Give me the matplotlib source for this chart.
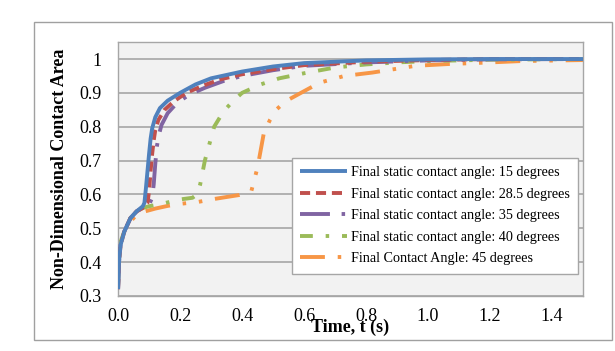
import matplotlib
matplotlib.use("Agg")
import matplotlib.pyplot as plt
from matplotlib.patches import Rectangle

plt.rcParams['font.family'] = ['Liberation Serif', 'DejaVu Serif']

# Data
t15 = [0.0, 0.003, 0.008, 0.02, 0.04, 0.06, 0.08, 0.085, 0.09, 0.095, 0.1, 0.105, 0.11, 0.12, 0.135, 0.16, 0.2, 0.25, 0.3, 0.4, 0.5, 0.6, 0.8, 1.0, 1.2, 1.5]
a15 = [0.32, 0.40, 0.45, 0.49, 0.53, 0.55, 0.565, 0.575, 0.62, 0.67, 0.72, 0.765, 0.795, 0.828, 0.855, 0.877, 0.90, 0.925, 0.943, 0.963, 0.978, 0.988, 0.996, 0.999, 1.0, 1.0]

t285 = [0.0, 0.003, 0.008, 0.02, 0.04, 0.06, 0.08, 0.095, 0.1, 0.105, 0.11, 0.115, 0.12, 0.13, 0.15, 0.18, 0.22, 0.27, 0.33, 0.4, 0.5, 0.6, 0.8, 1.0, 1.2, 1.5]
a285 = [0.32, 0.40, 0.45, 0.49, 0.53, 0.55, 0.56, 0.575, 0.61, 0.67, 0.72, 0.76, 0.79, 0.82, 0.85, 0.875, 0.9, 0.92, 0.94, 0.955, 0.97, 0.982, 0.992, 0.997, 1.0, 1.0]

t35 = [0.0, 0.003, 0.008, 0.02, 0.04, 0.06, 0.08, 0.1, 0.11, 0.115, 0.12, 0.125, 0.13, 0.14, 0.16, 0.19, 0.23, 0.28, 0.34, 0.4, 0.5, 0.6, 0.8, 1.0, 1.2, 1.5]
a35 = [0.32, 0.40, 0.45, 0.49, 0.53, 0.55, 0.56, 0.57, 0.59, 0.63, 0.69, 0.74, 0.77, 0.805, 0.84, 0.87, 0.895, 0.915, 0.935, 0.95, 0.967, 0.98, 0.99, 0.996, 0.999, 1.0]

t40 = [0.0, 0.003, 0.008, 0.02, 0.04, 0.06, 0.08, 0.1, 0.14, 0.2, 0.24, 0.255, 0.265, 0.28, 0.31, 0.34, 0.37, 0.4, 0.46, 0.52, 0.6, 0.7, 0.8, 0.9, 1.0, 1.2, 1.5]
a40 = [0.33, 0.41, 0.46, 0.49, 0.53, 0.55, 0.56, 0.565, 0.572, 0.585, 0.59, 0.6, 0.63, 0.7, 0.8, 0.845, 0.875, 0.9, 0.925, 0.943, 0.958, 0.975, 0.984, 0.99, 0.994, 0.998, 1.0]

t45 = [0.0, 0.003, 0.008, 0.02, 0.04, 0.06, 0.08, 0.12, 0.16, 0.2, 0.26, 0.3, 0.39, 0.43, 0.45, 0.47, 0.48, 0.49, 0.51, 0.54, 0.61, 0.65, 0.69, 0.73, 0.82, 0.96, 1.06, 1.2, 1.3, 1.5]
a45 = [0.375, 0.41, 0.455, 0.49, 0.52, 0.54, 0.548, 0.558, 0.566, 0.572, 0.578, 0.585, 0.598, 0.61, 0.68, 0.78, 0.80, 0.82, 0.85, 0.875, 0.91, 0.93, 0.94, 0.95, 0.96, 0.98, 0.985, 0.99, 0.994, 0.997]

labels = ["Final static contact angle: 15 degrees",
          "Final static contact angle: 28.5 degrees",
          "Final static contact angle: 35 degrees",
          "Final static contact angle: 40 degrees",
          "Final Contact Angle: 45 degrees"]
xticks = [0.0, 0.2, 0.4, 0.6, 0.8, 1.0, 1.2, 1.4]
yticks = [0.3, 0.4, 0.5, 0.6, 0.7, 0.8, 0.9, 1.0]
yticklabels = ["0.3", "0.4", "0.5", "0.6", "0.7", "0.8", "0.9", "1"]

fig = plt.figure(figsize=(6.15, 3.51), dpi=100)
fig.patches.append(Rectangle((0.055, 0.031), 0.940, 0.906, transform=fig.transFigure,
                             fill=False, edgecolor='#A0A0A0', linewidth=1.0))
ax = fig.add_axes([0.192, 0.157, 0.756, 0.723])
ax.set_facecolor('#F2F2F2')

LW = 2.8
ax.plot(t15, a15, color='#4F81BD', lw=LW, solid_capstyle='butt', label=labels[0], zorder=5)
ax.plot(t285, a285, color='#C0504D', lw=LW, dashes=(2.6, 1.5), label=labels[1], zorder=4)
ax.plot(t35, a35, color='#8064A2', lw=LW, dashes=(7.7, 3.0, 0.9, 3.0), label=labels[2], zorder=3)
ax.plot(t40, a40, color='#9BBB59', lw=LW, dashes=(3.3, 3.3, 0.9, 3.3), label=labels[3], zorder=2)
ax.plot(t45, a45, color='#F79646', lw=LW, dashes=(6.4, 3.3, 0.9, 3.3, 0.9, 3.3), label=labels[4], zorder=1)

ax.set_xlim(0, 1.5)
ax.set_ylim(0.3, 1.05)
ax.set_xticks(xticks)
ax.set_xticklabels([f"{v:.1f}" for v in xticks], fontsize=13)
ax.set_yticks(yticks)
ax.set_yticklabels(yticklabels, fontsize=13)
ax.tick_params(length=0)
ax.tick_params(axis='x', pad=9)
ax.tick_params(axis='y', pad=12)
ax.grid(axis='y', color='#A6A6A6', lw=1.2)
ax.set_axisbelow(True)
for s in ax.spines.values():
    s.set_color('#A6A6A6')
    s.set_linewidth(1.0)

ax.set_xlabel("Time, t (s)", fontsize=13, fontweight='bold', labelpad=-5)
ax.set_ylabel("Non-Dimensional Contact Area", fontsize=13, fontweight='bold', labelpad=8)

leg = ax.legend(loc='lower right', bbox_to_anchor=(0.989, 0.087), fontsize=10.2,
                frameon=True, fancybox=False, handlelength=3.3, handletextpad=0.25,
                borderpad=0.6, labelspacing=0.6, borderaxespad=0)
leg.get_frame().set_edgecolor('#A6A6A6')
leg.get_frame().set_facecolor('white')
leg.get_frame().set_alpha(1)

fig.savefig("out.png", dpi=100)
